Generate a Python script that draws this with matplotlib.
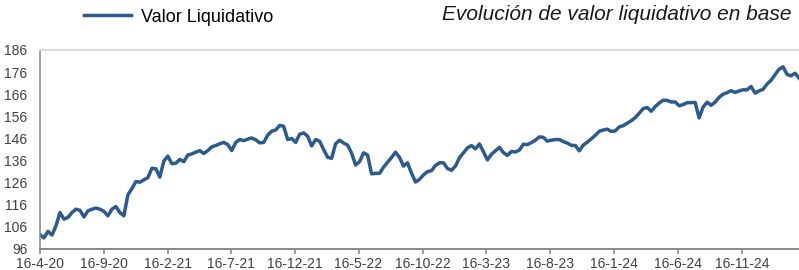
import matplotlib
matplotlib.use("Agg")
import matplotlib.pyplot as plt
import matplotlib.dates as mdates
import pandas as pd
import numpy as np

plt.rcParams['font.family'] = ['Liberation Sans', 'DejaVu Sans']

start_date = '2020-04-16'
end_date = '2025-04-01'

values = [
    102.5, 101.0, 104.0, 102.3, 106.5, 112.5, 109.5, 110.3, 112.5, 114.0,
    113.5, 110.5, 113.25, 114.0, 114.5, 114.0, 113.0, 111.0, 114.0, 115.2,
    112.5, 111.0, 120.5, 123.3, 126.5, 126.2, 127.3, 128.25, 132.5, 132.3,
    128.5, 135.8, 138.0, 134.6, 134.8, 136.5, 135.5, 138.5, 139.0, 139.8,
    140.5, 139.2, 140.5, 142.2, 142.8, 143.6, 144.2, 143.2, 140.5, 144.2,
    145.5, 145.0, 145.7, 146.2, 145.4, 144.0, 144.2, 147.5, 149.3, 149.8,
    151.9, 151.5, 145.5, 146.0, 144.2, 147.9, 148.5, 147.0, 142.6, 145.5,
    144.75, 141.0, 137.5, 137.0, 143.6, 145.2, 143.9, 143.0, 139.4, 134.0,
    135.5, 139.5, 138.5, 130.0, 130.2, 130.2, 133.0, 135.2, 137.4, 139.8,
    137.4, 133.5, 135.0, 130.3, 126.3, 127.5, 129.5, 131.0, 131.4, 133.8,
    135.0, 135.0, 132.4, 131.6, 133.5, 137.25, 139.5, 141.7, 142.8, 141.3,
    143.5, 140.0, 136.3, 138.8, 140.4, 142.0, 139.6, 138.3, 140.1, 139.9,
    140.7, 143.4, 143.2, 144.1, 145.2, 146.7, 146.5, 144.8, 145.2, 145.5,
    145.5, 144.6, 143.9, 142.9, 142.8, 140.4, 143.0, 144.3, 145.8, 147.4,
    149.25, 149.8, 150.2, 149.2, 149.4, 151.2, 151.8, 152.9, 154.0, 155.4,
    157.4, 159.5, 160.0, 158.3, 160.4, 162.0, 163.3, 163.2, 162.5, 162.5,
    160.8, 161.3, 162.2, 162.2, 162.3, 155.3, 160.2, 162.4, 161.0, 162.4,
    164.6, 166.0, 166.7, 167.6, 166.8, 167.5, 168.0, 168.0, 169.5, 166.5,
    167.5, 168.2, 170.6, 172.3, 174.8, 177.3, 178.4, 175.0, 174.3, 175.5,
    173.3,
]

xtick_labels = ['16-4-20', '16-9-20', '16-2-21', '16-7-21', '16-12-21', '16-5-22',
                '16-10-22', '16-3-23', '16-8-23', '16-1-24', '16-6-24', '16-11-24']
ytick_values = [96, 106, 116, 126, 136, 146, 156, 166, 176, 186]

series_label = 'Valor Liquidativo'
title = 'Evolución de valor liquidativo en base'

dates = pd.date_range(start_date, end_date, periods=len(values))
xtick_dates = pd.to_datetime(xtick_labels, format='%d-%m-%y')

fig = plt.figure(figsize=(7.99, 2.70), dpi=100)
ax = fig.add_axes([40/799, 21/270, 1 - 40/799, (249 - 50)/270])

line_color = '#2C5B8E'
ax.plot(dates, values, color=line_color, lw=2.5, solid_joinstyle='round', label=series_label)

ax.set_xlim(pd.Timestamp(start_date), pd.Timestamp(end_date))
ax.set_ylim(ytick_values[0], ytick_values[-1])
ax.set_yticks(ytick_values)
ax.set_xticks(xtick_dates)
ax.set_xticklabels(xtick_labels)

ax.spines['right'].set_visible(False)
ax.spines['top'].set_color('#D9D9D9')
ax.spines['top'].set_linewidth(1.5)
ax.spines['left'].set_color('#8C8C8C')
ax.spines['left'].set_linewidth(1.2)
ax.spines['bottom'].set_color('#8C8C8C')
ax.spines['bottom'].set_linewidth(1.5)

ax.tick_params(axis='y', length=0, pad=9, labelsize=10, labelcolor='#404040')
ax.tick_params(axis='x', length=3.5, width=1.2, color='#8C8C8C', pad=2.5,
               labelsize=10, labelcolor='#404040')

# legend
fs_leg = 13
leg = fig.legend(handles=ax.get_lines(), labels=[series_label], loc='center left',
                 bbox_to_anchor=(84/799, 1 - 17/270), frameon=False,
                 fontsize=fs_leg, handlelength=47/(fs_leg*100/72),
                 handletextpad=10/(fs_leg*100/72),
                 borderaxespad=0, borderpad=0)

fig.text(791/799, 1 - 15/270, title, ha='right', va='center',
         fontsize=15, style='italic', color='#1a1a1a')

fig.savefig('out.png', dpi=100)
